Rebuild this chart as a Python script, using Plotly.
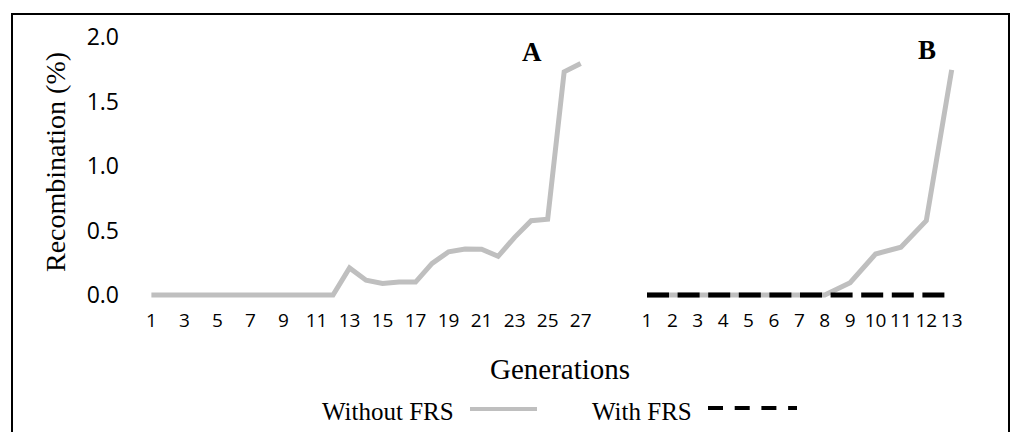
import plotly.graph_objects as go

# ---- data ----
gen_A = [1, 2, 3, 4, 5, 6, 7, 8, 9, 10, 11, 12, 13, 14, 15, 16, 17, 18, 19, 20,
         21, 22, 23, 24, 25, 26, 27]
without_frs_A = [0.0, 0.0, 0.0, 0.0, 0.0, 0.0, 0.0, 0.0, 0.0, 0.0, 0.0, 0.0,
                 0.21, 0.115, 0.09, 0.10, 0.10, 0.245, 0.335, 0.357, 0.355,
                 0.30, 0.447, 0.576, 0.587, 1.73, 1.795]

gen_B = [1, 2, 3, 4, 5, 6, 7, 8, 9, 10, 11, 12, 13]
without_frs_B = [0.0, 0.0, 0.0, 0.0, 0.0, 0.0, 0.0, 0.0, 0.095, 0.318, 0.37,
                 0.576, 1.745]
with_frs_B = [0.0, 0.0, 0.0, 0.0, 0.0, 0.0, 0.0, 0.0, 0.0, 0.0, 0.0, 0.0, 0.0]

ticks_A = [1, 3, 5, 7, 9, 11, 13, 15, 17, 19, 21, 23, 25, 27]
ticks_B = [1, 2, 3, 4, 5, 6, 7, 8, 9, 10, 11, 12, 13]
y_ticks = [0.0, 0.5, 1.0, 1.5, 2.0]

series_names = ["Without FRS", "With FRS"]
panel_labels = ["A", "B"]
y_title = "Recombination (%)"
x_title = "Generations"

# ---- style ----
W, H = 1011, 432
GRAY = "#BFBFBF"
SERIF = "Liberation Serif"
SANS = "Open Sans"


def px_x(p):
    return p / W


def px_y(p):
    return 1 - p / H


fig = go.Figure()

fig.add_trace(go.Scatter(x=gen_A, y=without_frs_A, mode="lines",
                         line=dict(color=GRAY, width=5), name=series_names[0],
                         showlegend=False,
                         xaxis="x", yaxis="y", hoverinfo="skip"))
fig.add_trace(go.Scatter(x=gen_B, y=without_frs_B, mode="lines",
                         line=dict(color=GRAY, width=5), name=series_names[0],
                         showlegend=False,
                         xaxis="x2", yaxis="y", hoverinfo="skip"))
fig.add_trace(go.Scatter(x=gen_B, y=with_frs_B, mode="lines",
                         line=dict(color="black", width=5, dash="22px,8.6px"),
                         name=series_names[1], showlegend=False,
                         xaxis="x2", yaxis="y", hoverinfo="skip"))

axis_common = dict(showgrid=False, zeroline=False, showline=False, ticks="",
                   automargin=False, tickmode="array",
                   tickfont=dict(family=SANS, size=19, color="black"),
                   ticklabelstandoff=2)

fig.update_layout(
    template="none",
    width=W, height=H, autosize=False,
    margin=dict(l=0, r=0, t=0, b=0, pad=0),
    paper_bgcolor="white", plot_bgcolor="white",
    showlegend=False,
    xaxis=dict(domain=[px_x(140), px_x(590)], range=[0.3095, 27.565],
               tickvals=ticks_A, ticktext=[str(t) for t in ticks_A],
               anchor="y", **axis_common),
    xaxis2=dict(domain=[px_x(630), px_x(965)], range=[0.3305, 13.524],
                tickvals=ticks_B, ticktext=[str(t) for t in ticks_B],
                anchor="y", **axis_common),
    yaxis=dict(domain=[px_y(305), px_y(30)], range=[-10 / 129, 2 + 7 / 129],
               showgrid=False, zeroline=False, showline=False, ticks="",
               automargin=False, tickmode="array", tickvals=y_ticks,
               ticktext=[f"{v:.1f}" for v in y_ticks],
               tickfont=dict(family=SANS, size=23, color="black"),
               ticklabelstandoff=20, anchor="x"),
)

# axis titles
fig.add_annotation(text=y_title, xref="paper", yref="paper",
                   x=px_x(55), y=px_y(162), textangle=-90, showarrow=False,
                   font=dict(family=SERIF, size=28, color="black"),
                   xanchor="center", yanchor="middle")
fig.add_annotation(text=x_title, xref="paper", yref="paper",
                   x=px_x(560), y=px_y(369), showarrow=False,
                   font=dict(family=SERIF, size=29, color="black"),
                   xanchor="center", yanchor="middle")

# panel labels
fig.add_annotation(text="<b>%s</b>" % panel_labels[0], xref="paper", yref="paper",
                   x=px_x(532), y=px_y(52), showarrow=False,
                   font=dict(family=SERIF, size=27, color="black"),
                   xanchor="center", yanchor="middle")
fig.add_annotation(text="<b>%s</b>" % panel_labels[1], xref="paper", yref="paper",
                   x=px_x(927), y=px_y(50), showarrow=False,
                   font=dict(family=SERIF, size=27, color="black"),
                   xanchor="center", yanchor="middle")

# legend (text + key lines)
fig.add_annotation(text=series_names[0], xref="paper", yref="paper",
                   x=px_x(320), y=px_y(411), showarrow=False,
                   font=dict(family=SERIF, size=25, color="black"),
                   xanchor="left", yanchor="middle")
fig.add_shape(type="line", xref="paper", yref="paper",
              x0=px_x(470), x1=px_x(537), y0=px_y(409), y1=px_y(409),
              line=dict(color=GRAY, width=4))
fig.add_annotation(text=series_names[1], xref="paper", yref="paper",
                   x=px_x(590), y=px_y(411), showarrow=False,
                   font=dict(family=SERIF, size=25, color="black"),
                   xanchor="left", yanchor="middle")
fig.add_shape(type="line", xref="paper", yref="paper",
              x0=px_x(708), x1=px_x(797), y0=px_y(408), y1=px_y(408),
              line=dict(color="black", width=4, dash="15px,11.7px"))

# outer frame
fig.add_shape(type="rect", xref="paper", yref="paper",
              x0=px_x(12), x1=px_x(1009), y0=px_y(H + 20), y1=px_y(14),
              line=dict(color="black", width=2), fillcolor="rgba(0,0,0,0)",
              layer="above")

fig.write_html("out.html")
